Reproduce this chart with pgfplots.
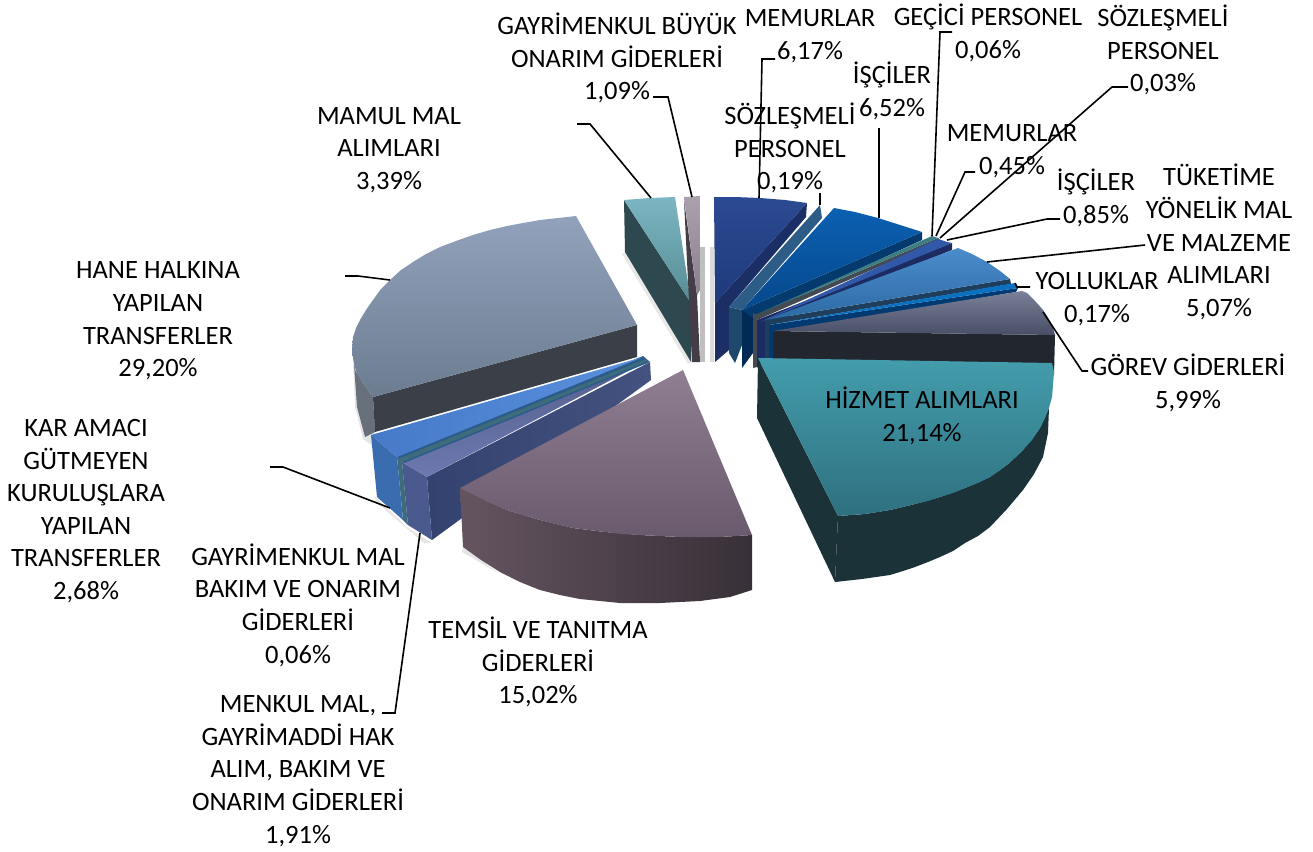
\documentclass[border=0pt]{standalone}
\usepackage{fontspec}
\setmainfont{Carlito}
\usepackage{pgfplots}
\pgfplotsset{compat=1.18}
\newcommand{\poly}[2]{\addplot[draw=none,#1] coordinates {#2} -- cycle;}
\newcommand{\lead}[1]{\addplot[black,line width=1.6pt] coordinates {#1};}
\newcommand{\lab}[3]{\node[align=center,inner sep=0pt,anchor=center,text=black] at (axis cs:#1,#2+1) {#3};}
\begin{document}
\begin{tikzpicture}
\path[use as bounding box] (0,0) rectangle (1313pt,851pt);
\begin{axis}[
  at={(0,0)}, anchor=south west,
  scale only axis, width=1313pt, height=851pt,
  xmin=0, xmax=1313, ymin=0, ymax=851, y dir=reverse,
  hide axis, clip=false,
  nodes={font=\fontsize{26.5}{32.6}\selectfont},
]
% soft shadows
\poly{fill=black!9}{(625,252)(691,362)(688,364)(622,254)}
\poly{fill=black!25}{(700,247)(705,247)(705,362)(700,362)}
\poly{fill=black!14}{(710,247)(714,247)(714,362)(710,362)}
\poly{fill=black!10}{(353,363)(355,407)(363,439)(375,447)(375,420)}
\poly{fill=black!10}{(375,497)(403,523)(408,528)(432,543)(424,543)(376,502)}
\poly{fill=black!10}{(463,547)(500,574)(462,552)}
% HANE HALKINA
\definecolor{hant}{RGB}{146,162,188}
\definecolor{hanb}{RGB}{108,124,144}
\definecolor{hanf}{RGB}{58,63,72}
\definecolor{hanl}{RGB}{104,112,124}
\poly{fill=hanl}{(353,350)(355,370)(363,383)(373,397)(375,432)(365,437)(357,407)}
\poly{fill=hanf}{(373,397)(637,325)(637,357)(375,432)}
\poly{top color=hant,bottom color=hanb}{(576,216)(637,325)(373,397)(368,390)(363,383)(358,376)(355,368)(353,358)(352,350)(353,337)(356,328)(360,320)(366,310)(373,300)(381,289)(390,280)(401,270)(413,262)(426,254)(440,247)(456,241)(473,235)(490,230)(507,226)(523,223)(540,220)(558,218)}
% MAMUL MAL
\definecolor{mamsd}{RGB}{45,72,78}
\definecolor{mamt}{RGB}{124,182,194}
\definecolor{mamb}{RGB}{86,140,148}
\poly{fill=mamsd}{(624,200)(691,303)(691,362)(625,252)}
\poly{top color=mamt,bottom color=mamb}{(624,200)(650,198)(675,197)(691,303)}
% GAYRIMENKUL BUYUK
\definecolor{buyt}{RGB}{172,160,174}
\definecolor{buys}{RGB}{68,60,70}
\poly{fill=buys}{(684,200)(697,295)(700,362)(692,362)}
\poly{top color=buyt,bottom color=buyt!80!black}{(684,197)(700,196)(700,290)(697,295)}
% MEMURLAR 6,17
\definecolor{memt}{RGB}{44,74,146}
\definecolor{memb}{RGB}{30,58,124}
\definecolor{mems}{RGB}{27,46,102}
\poly{fill=mems}{(807,203)(806,217)(729,307)(729,350)(715,362)(715,303)}
\poly{top color=memt,bottom color=memb}{(714,197)(735,197)(760,198)(785,200)(807,203)(715,303)}
% SOZLESMELI 0,19
\definecolor{sozs}{RGB}{45,92,135}
\definecolor{sozd}{RGB}{30,72,108}
\poly{fill=sozd}{(729,307)(742,310)(742,345)(735,363)(729,353)}
\poly{fill=sozs}{(820,205)(822,218)(742,310)(729,307)}
% ISCILER 6,52
\definecolor{isct}{RGB}{11,96,178}
\definecolor{iscb}{RGB}{6,72,140}
\definecolor{iscs}{RGB}{4,58,110}
\definecolor{iscv}{RGB}{3,42,84}
\poly{fill=iscv}{(742,310)(753,313)(753,353)(742,368)}
\poly{fill=iscs}{(922,232)(922,240)(753,318)(742,310)}
\poly{top color=isct,bottom color=iscb}{(834,208)(855,212)(878,218)(900,225)(922,232)(742,310)}
% GECICI
\definecolor{gect}{RGB}{60,125,132}
\definecolor{gecs}{RGB}{68,74,82}
\poly{fill=gecs}{(753,313)(757,315)(757,367)(753,368)}
\poly{fill=gecs}{(938,238)(940,240)(757,320)(753,316)}
\poly{fill=gect}{(932,236)(938,238)(755,315)}
% MEMURLAR 0,45
\definecolor{mett}{RGB}{50,88,170}
\definecolor{mets}{RGB}{28,44,98}
\poly{fill=mets}{(757,320)(767,320)(767,356)(757,368)}
\poly{fill=mets}{(952,243)(952,250)(767,325)(757,320)}
\poly{fill=mett}{(938,239)(947,242)(952,243)(760,322)}
% TUKETIME
\definecolor{tukt}{RGB}{76,140,204}
\definecolor{tukb}{RGB}{44,106,164}
\definecolor{tuks}{RGB}{30,62,92}
\poly{fill=tuks}{(765,320)(769,322)(769,362)(765,358)}
\poly{fill=tuks}{(1010,279)(1011,284)(769,325)(765,320)}
\poly{top color=tukt,bottom color=tukb}{(958,248)(972,254)(987,262)(1000,271)(1010,279)(765,320)}
% YOLLUKLAR
\definecolor{yolt}{RGB}{10,112,192}
\definecolor{yols}{RGB}{0,58,112}
\poly{fill=yols}{(769,325)(773,329)(773,361)(769,361)}
\poly{fill=yols}{(1018,288)(1016,292)(773,333)(769,325)}
\poly{fill=yolt}{(1015,283)(1018,288)(769,325)}
% GOREV
\definecolor{gort}{RGB}{122,128,152}
\definecolor{gorb}{RGB}{72,78,102}
\definecolor{gors}{RGB}{34,38,47}
\poly{fill=gors}{(773,331)(1055,335)(1054,375)(773,375)}
\poly{top color=gort,bottom color=gorb}{(1022,291)(1027,293)(1036,302)(1043,310)(1047,316)(1050,322)(1053,328)(1055,335)(773,331)}
% HIZMET
\definecolor{hizt}{RGB}{67,157,172}
\definecolor{hizb}{RGB}{47,112,128}
\definecolor{hizs}{RGB}{26,50,56}
\poly{fill=hizs}{(758,358)(838,516)(835,582)(757,418)}
\poly{fill=hizs}{(838,516)(865,514)(890,510)(915,504)(940,497)(965,488)(990,477)(1008,464)(1023,450)(1040,428)(1049,408)(1048,433)(1043,457)(1034,474)(1023,490)(1007,509)(990,527)(978,536)(965,543)(953,551)(940,557)(928,562)(915,567)(903,571)(890,575)(876,577)(862,579)(835,582)}
\poly{top color=hizt,bottom color=hizb}{(758,358)(1052,363)(1054,372)(1053,385)(1052,397)(1049,408)(1045,418)(1040,428)(1032,440)(1023,450)(1016,457)(1008,464)(999,471)(990,477)(978,483)(965,488)(953,493)(940,497)(928,501)(915,504)(903,507)(890,510)(878,512)(865,514)(852,515)(838,516)}
% MENKUL MAL
\definecolor{menk}{RGB}{108,120,176}
\definecolor{menf}{RGB}{74,90,142}
\definecolor{mens}{RGB}{52,66,112}
\definecolor{mens2}{RGB}{68,82,128}
\poly{left color=mens,right color=mens2}{(427,477)(650,362)(651,380)(432,540)}
\poly{fill=menf}{(402,462)(427,477)(432,540)(408,525)}
\poly{top color=menk!80!black,bottom color=menk}{(402,462)(647,361)(427,477)}
% GAYRIMENKUL MAL 0,06
\definecolor{gmst}{RGB}{44,92,140}
\definecolor{gmte}{RGB}{62,108,122}
\poly{fill=gmst}{(396,456)(404,463)(650,362)(643,356)}
\poly{fill=gmte}{(398,459)(402,462)(648,361)(646,359)}
\poly{fill=gmte}{(397,457)(402,461)(408,525)(403,520)}
% KAR AMACI
\definecolor{kart}{RGB}{90,144,222}
\definecolor{karb}{RGB}{70,122,200}
\definecolor{kars}{RGB}{58,108,176}
\poly{fill=kars}{(371,435)(397,457)(403,520)(377,497)}
\poly{left color=karb,right color=kart}{(371,435)(643,357)(397,457)}
% TEMSIL
\definecolor{temt}{RGB}{144,126,146}
\definecolor{temb}{RGB}{106,90,110}
\definecolor{tems}{RGB}{100,84,96}
\definecolor{tems2}{RGB}{56,48,56}
\poly{left color=tems,right color=tems2}{(460,488)(480,498)(507,510)(540,520)(573,528)(605,532)(640,535)(680,537)(720,537)(752,535)(752,590)(730,597)(700,601)(680,602)(660,603)(640,603)(620,603)(600,601)(580,599)(560,595)(540,590)(520,582)(500,572)(481,560)(463,547)}
\poly{top color=temt,bottom color=temb}{(683,370)(752,535)(720,537)(700,537)(680,537)(660,536)(640,535)(622,534)(605,532)(589,530)(573,528)(556,524)(540,520)(523,515)(507,510)(493,504)(480,498)(470,493)(460,488)}
% leaders
\lead{(577,124)(590,124)(651,198)}
\lead{(653,97)(668,97)(692,197)}
\lead{(775,59)(762,59)(759,198)}
\lead{(820,193)(820,205)}
\lead{(879,128)(879,218)}
\lead{(952,32)(940,32)(932,236)}
\lead{(975,172)(965,172)(936,236)}
\lead{(1128,87)(1112,87)(940,238)}
\lead{(1060,219)(1047,219)(947,240)}
\lead{(1145,245)(987,262)}
\lead{(1030,287)(1017,287)(1015,283)}
\lead{(1043,312)(1082,371)(1088,371)}
\lead{(345,276)(358,276)(390,280)}
\lead{(270,467)(283,467)(390,508)}
\lead{(382,713)(395,713)(420,533)}
% labels
\lab{617}{57}{GAYRİMENKUL BÜYÜK\\ONARIM GİDERLERİ\\1,09\%}
\lab{810}{35}{MEMURLAR\\6,17\%}
\lab{988}{32}{GEÇİCİ PERSONEL\\0,06\%}
\lab{1163}{49}{SÖZLEŞMELİ\\PERSONEL\\0,03\%}
\lab{892}{90}{İŞÇİLER\\6,52\%}
\lab{790}{147}{SÖZLEŞMELİ\\PERSONEL\\0,19\%}
\lab{1012}{150}{MEMURLAR\\0,45\%}
\lab{1096}{197}{İŞÇİLER\\0,85\%}
\lab{1219}{241}{TÜKETİME\\YÖNELİK MAL\\VE MALZEME\\ALIMLARI\\5,07\%}
\lab{1097}{298}{YOLLUKLAR\\0,17\%}
\lab{1188}{382}{GÖREV GİDERLERİ\\5,99\%}
\lab{922}{415}{HİZMET ALIMLARI\\21,14\%}
\lab{389}{149}{MAMUL MAL\\ALIMLARI\\3,39\%}
\lab{158}{320}{HANE HALKINA\\YAPILAN\\TRANSFERLER\\29,20\%}
\lab{86}{510}{KAR AMACI\\GÜTMEYEN\\KURULUŞLARA\\YAPILAN\\TRANSFERLER\\2,68\%}
\lab{298}{604}{GAYRİMENKUL MAL\\BAKIM VE ONARIM\\GİDERLERİ\\0,06\%}
\lab{538}{661}{TEMSİL VE TANITMA\\GİDERLERİ\\15,02\%}
\lab{298}{770}{MENKUL MAL,\\GAYRİMADDİ HAK\\ALIM, BAKIM VE\\ONARIM GİDERLERİ\\1,91\%}
\end{axis}
\end{tikzpicture}
\end{document}
